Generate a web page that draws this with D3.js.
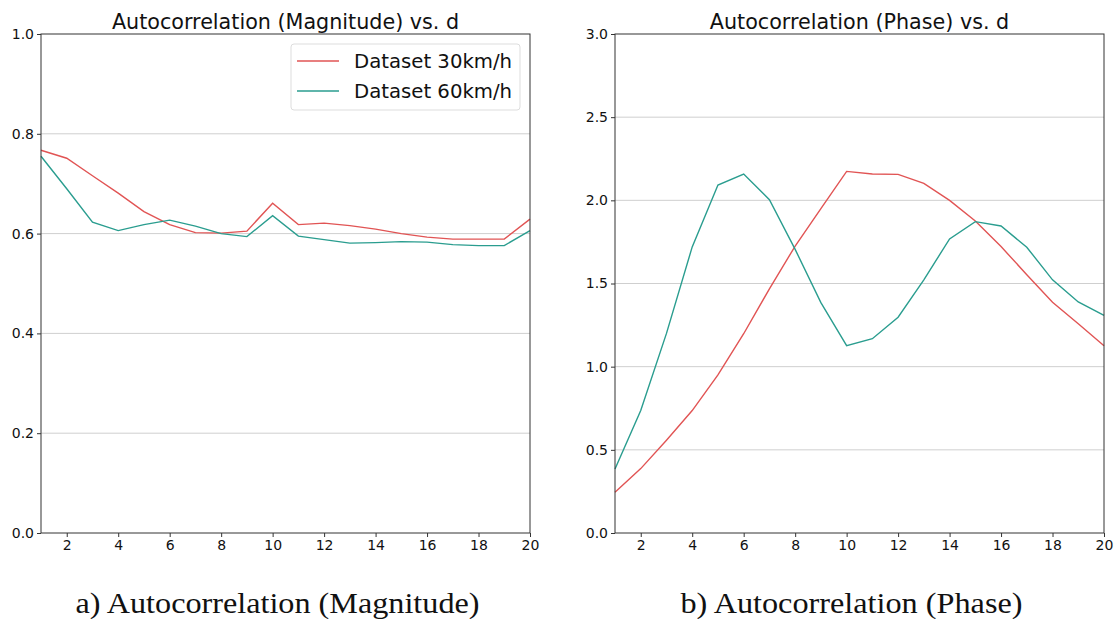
<!DOCTYPE html>
<html>
<head>
<meta charset="utf-8">
<script src="https://cdn.jsdelivr.net/npm/d3@7"></script>
<style>
  body { margin: 0; background: #fff; }
  svg text { font-family: "DejaVu Sans", sans-serif; fill: #111; }
</style>
</head>
<body>
<svg id="chart" width="1117" height="619"></svg>
<script>
// lag values d = 1..20
var lags = d3.range(1, 21);

// magnitude autocorrelation
var mag30 = [0.767, 0.751, 0.716, 0.681, 0.644, 0.618, 0.602, 0.601, 0.605, 0.661,
             0.618, 0.621, 0.616, 0.609, 0.600, 0.593, 0.589, 0.589, 0.589, 0.629];
var mag60 = [0.755, 0.690, 0.623, 0.606, 0.618, 0.627, 0.615, 0.600, 0.594, 0.636,
             0.595, 0.588, 0.581, 0.582, 0.584, 0.583, 0.578, 0.576, 0.576, 0.606];

// phase autocorrelation
var phase30 = [0.245, 0.387, 0.558, 0.736, 0.950, 1.198, 1.468, 1.725, 1.950, 2.174,
               2.158, 2.156, 2.102, 2.000, 1.876, 1.722, 1.553, 1.387, 1.258, 1.126];
var phase60 = [0.385, 0.737, 1.200, 1.720, 2.092, 2.158, 2.004, 1.705, 1.385, 1.126,
               1.168, 1.297, 1.522, 1.768, 1.872, 1.846, 1.718, 1.522, 1.389, 1.308];

var seriesNames = ["Dataset 30km/h", "Dataset 60km/h"];
var seriesColors = ["#e15454", "#2a9d8f"];

var xTicks = [2, 4, 6, 8, 10, 12, 14, 16, 18, 20];
var magTicks = [0.0, 0.2, 0.4, 0.6, 0.8, 1.0];
var phaseTicks = [0.0, 0.5, 1.0, 1.5, 2.0, 2.5, 3.0];

var svg = d3.select("#chart");

function drawPanel(opts) {
  var x = d3.scaleLinear().domain([1, 20]).range([opts.left, opts.right]);
  var y = d3.scaleLinear().domain(opts.yDomain).range([opts.bottom, opts.top]);
  var g = svg.append("g");

  // horizontal grid
  g.selectAll(".grid")
    .data(opts.yTicks.slice(1, -1))
    .enter()
    .append("line")
    .attr("x1", opts.left)
    .attr("x2", opts.right)
    .attr("y1", d => y(d))
    .attr("y2", d => y(d))
    .attr("stroke", "#cfcfcf")
    .attr("stroke-width", 1);

  var line = d3.line()
    .x((d, i) => x(lags[i]))
    .y(d => y(d));

  opts.series.forEach(function(s, i) {
    g.append("path")
      .datum(s)
      .attr("d", line)
      .attr("fill", "none")
      .attr("stroke", seriesColors[i])
      .attr("stroke-width", 1.4);
  });

  // frame
  g.append("rect")
    .attr("x", opts.left)
    .attr("y", opts.top)
    .attr("width", opts.right - opts.left)
    .attr("height", opts.bottom - opts.top)
    .attr("fill", "none")
    .attr("stroke", "#333")
    .attr("stroke-width", 1);

  var xAxis = g.append("g")
    .attr("transform", "translate(0," + opts.bottom + ")")
    .call(d3.axisBottom(x).tickValues(xTicks).tickSize(4).tickPadding(3));
  var yAxis = g.append("g")
    .attr("transform", "translate(" + opts.left + ",0)")
    .call(d3.axisLeft(y).tickValues(opts.yTicks).tickFormat(d3.format(".1f")).tickSize(4).tickPadding(3));
  [xAxis, yAxis].forEach(function(a) {
    a.select(".domain").remove();
    a.selectAll("line").attr("stroke", "#333");
    a.selectAll("text").style("font-size", "14px").style("font-family", "DejaVu Sans").attr("fill", "#111");
  });

  // title
  g.append("text")
    .attr("x", (opts.left + opts.right) / 2)
    .attr("y", 29)
    .attr("text-anchor", "middle")
    .style("font-size", "20.7px")
    .text(opts.title);

  // caption underneath
  g.append("text")
    .attr("x", (opts.left + opts.right) / 2 - 8)
    .attr("y", 613)
    .attr("text-anchor", "middle")
    .style("font-family", "Liberation Serif")
    .style("font-size", "30px")
    .attr("textLength", opts.captionWidth)
    .attr("lengthAdjust", "spacingAndGlyphs")
    .text(opts.caption);

  return g;
}

var left = drawPanel({
  left: 41, right: 530, top: 34, bottom: 533,
  yDomain: [0, 1], yTicks: magTicks,
  series: [mag30, mag60],
  title: "Autocorrelation (Magnitude) vs. d",
  caption: "a) Autocorrelation (Magnitude)",
  captionWidth: 404
});

drawPanel({
  left: 615, right: 1104, top: 34, bottom: 533,
  yDomain: [0, 3], yTicks: phaseTicks,
  series: [phase30, phase60],
  title: "Autocorrelation (Phase) vs. d",
  caption: "b) Autocorrelation (Phase)",
  captionWidth: 342
});

// legend on the magnitude panel
var legend = left.append("g");
legend.append("rect")
  .attr("x", 291).attr("y", 44)
  .attr("width", 229).attr("height", 66)
  .attr("rx", 3)
  .attr("fill", "#fff")
  .attr("fill-opacity", 0.85)
  .attr("stroke", "#ddd");
seriesNames.forEach(function(name, i) {
  var ly = 61 + i * 30;
  legend.append("line")
    .attr("x1", 297).attr("x2", 339)
    .attr("y1", ly).attr("y2", ly)
    .attr("stroke", seriesColors[i])
    .attr("stroke-width", 1.4);
  legend.append("text")
    .attr("x", 354).attr("y", ly + 7)
    .style("font-size", "19.7px")
    .text(name);
});
</script>
</body>
</html>
